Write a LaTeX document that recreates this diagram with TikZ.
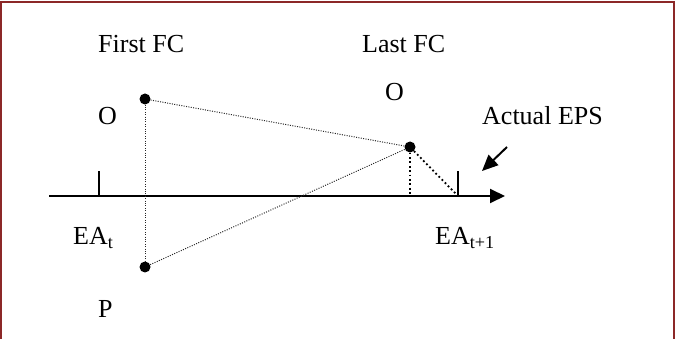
\documentclass[tikz,border=0pt]{standalone}
\usepackage{fontspec}
\setmainfont{Liberation Serif}
\usetikzlibrary{positioning,arrows.meta}

\definecolor{frame}{RGB}{140,40,40}

\begin{document}
\begin{tikzpicture}[x=1pt, y=-1pt,
    lbl/.style={font=\fontsize{26}{30}\selectfont, inner sep=0pt, anchor=base west},
    fc/.style={circle, fill=black, inner sep=0pt, minimum size=11pt},
    fine/.style={line width=1pt, dash pattern=on 1pt off 1.4pt, black!85},
    coarse/.style={line width=1.8pt, dash pattern=on 1.8pt off 2.6pt},
    axis/.style={line width=2pt, -{Triangle[length=15pt,width=14pt]}},
    tickmark/.style={line width=2pt},
    pointer/.style={line width=2pt, -{Triangle[length=16pt,width=14pt]}}
]
    \useasboundingbox (0,0) rectangle (675,339);
    % frame (bottom edge lies outside the page)
    \draw[frame, line width=1.5pt] (1,345) -- (1,2) -- (674,2) -- (674,345);

    % time axis with the two announcement dates
    \coordinate (axstart) at (49,196);
    \coordinate (axend) at (505,196);
    \draw[axis] (axstart) -- (axend);
    \coordinate (eatbase) at (99,196);
    \coordinate (eatop) at (99,171);
    \coordinate (eanbase) at (458,196);
    \coordinate (eantop) at (458,171);
    \draw[tickmark] (eatbase) -- (eatop);
    \draw[tickmark] (eanbase) -- (eantop);

    % forecasts
    \node[fc] (firsto) at (145,99) {};
    \node[fc] (firstp) at (145,267) {};
    \node[fc] (lasto) at (410,147) {};
    \coordinate (lastfoot) at (410,196);

    \draw[fine] (firsto) -- (firstp);
    \draw[fine] (firsto) -- (lasto);
    \draw[fine] (firstp) -- (lasto);
    \draw[coarse] (lasto) -- (lastfoot);
    \draw[coarse] (lasto) -- (eanbase);

    % labels
    \node[lbl] (firstfc) at (98,53) {First FC};
    \node[lbl] (firstol) at (98,125) {O};
    \node[lbl] (firstpl) at (98,317) {P};
    \node[lbl] (lastfc) at (362,53) {Last FC};
    \node[lbl] (lastol) at (385,101) {O};
    \node[lbl] (eatl) at (73,245) {EA\textsubscript{t}};
    \node[lbl] (eanl) at (435,245) {EA\textsubscript{t+1}};
    \node[lbl] (actual) at (482,125) {Actual EPS};

    % pointer to the actual value
    \coordinate (ptrstart) at (507,147);
    \coordinate (ptrend) at (482,171);
    \draw[pointer] (ptrstart) -- (ptrend);
\end{tikzpicture}
\end{document}
